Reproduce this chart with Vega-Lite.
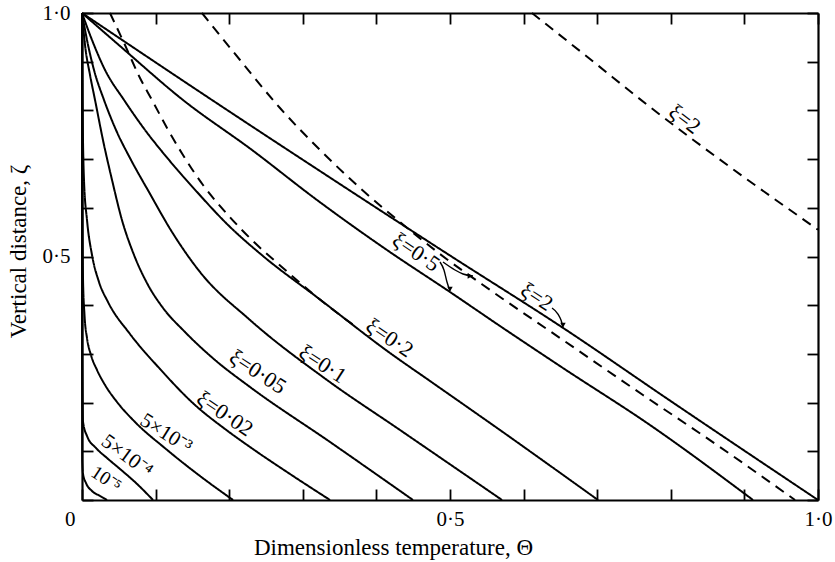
{
  "$schema": "https://vega.github.io/schema/vega-lite/v6.json",
  "width": 736,
  "height": 487,
  "autosize": {"type": "none"},
  "padding": {"left": 82, "top": 13, "right": 17, "bottom": 62},
  "background": "white",
  "config": {
    "view": {"stroke": null},
    "font": "Liberation Serif",
    "axis": {"grid": false, "domainColor": "black", "domainWidth": 2.2, "tickColor": "black", "tickWidth": 1.8, "labelColor": "black", "titleColor": "black", "labelFont": "Liberation Serif", "titleFont": "Liberation Serif", "labelFontSize": 21, "titleFontSize": 23, "titleFontWeight": "normal"}
  },
  "datasets": {
    "curves": [
      {"s": "1e-5", "kind": "exact", "x": 0, "y": 1}, {"s": "1e-5", "kind": "exact", "x": 0.0003, "y": 0.0821}, {"s": "1e-5", "kind": "exact", "x": 0.0014, "y": 0.0534}, {"s": "1e-5", "kind": "exact", "x": 0.0054, "y": 0.0349}, {"s": "1e-5", "kind": "exact", "x": 0.0136, "y": 0.0185}, {"s": "1e-5", "kind": "exact", "x": 0.0245, "y": 0.0082}, {"s": "1e-5", "kind": "exact", "x": 0.034, "y": 0},
      {"s": "5e-4", "kind": "exact", "x": 0, "y": 1}, {"s": "5e-4", "kind": "exact", "x": 0.0003, "y": 0.3}, {"s": "5e-4", "kind": "exact", "x": 0.0014, "y": 0.1602}, {"s": "5e-4", "kind": "exact", "x": 0.0068, "y": 0.1314}, {"s": "5e-4", "kind": "exact", "x": 0.019, "y": 0.1068}, {"s": "5e-4", "kind": "exact", "x": 0.034, "y": 0.0862}, {"s": "5e-4", "kind": "exact", "x": 0.0516, "y": 0.0637}, {"s": "5e-4", "kind": "exact", "x": 0.0734, "y": 0.0349}, {"s": "5e-4", "kind": "exact", "x": 0.0965, "y": 0},
      {"s": "5e-3", "kind": "exact", "x": 0, "y": 1}, {"s": "5e-3", "kind": "exact", "x": 0.0004, "y": 0.616}, {"s": "5e-3", "kind": "exact", "x": 0.0014, "y": 0.4517}, {"s": "5e-3", "kind": "exact", "x": 0.0034, "y": 0.3799}, {"s": "5e-3", "kind": "exact", "x": 0.0068, "y": 0.3326}, {"s": "5e-3", "kind": "exact", "x": 0.0122, "y": 0.2977}, {"s": "5e-3", "kind": "exact", "x": 0.0204, "y": 0.2669}, {"s": "5e-3", "kind": "exact", "x": 0.0313, "y": 0.2361}, {"s": "5e-3", "kind": "exact", "x": 0.0476, "y": 0.2012}, {"s": "5e-3", "kind": "exact", "x": 0.072, "y": 0.1602}, {"s": "5e-3", "kind": "exact", "x": 0.1141, "y": 0.1047}, {"s": "5e-3", "kind": "exact", "x": 0.1603, "y": 0.0493}, {"s": "5e-3", "kind": "exact", "x": 0.2052, "y": 0},
      {"s": "0.02", "kind": "exact", "x": 0, "y": 1}, {"s": "0.02", "kind": "exact", "x": 0.0007, "y": 0.8214}, {"s": "0.02", "kind": "exact", "x": 0.0027, "y": 0.6571}, {"s": "0.02", "kind": "exact", "x": 0.0068, "y": 0.5749}, {"s": "0.02", "kind": "exact", "x": 0.0136, "y": 0.5031}, {"s": "0.02", "kind": "exact", "x": 0.0231, "y": 0.4476}, {"s": "0.02", "kind": "exact", "x": 0.0353, "y": 0.4066}, {"s": "0.02", "kind": "exact", "x": 0.0652, "y": 0.3409}, {"s": "0.02", "kind": "exact", "x": 0.106, "y": 0.269}, {"s": "0.02", "kind": "exact", "x": 0.1535, "y": 0.1951}, {"s": "0.02", "kind": "exact", "x": 0.1943, "y": 0.1458}, {"s": "0.02", "kind": "exact", "x": 0.2283, "y": 0.1088}, {"s": "0.02", "kind": "exact", "x": 0.2826, "y": 0.0534}, {"s": "0.02", "kind": "exact", "x": 0.337, "y": 0},
      {"s": "0.05", "kind": "exact", "x": 0, "y": 1}, {"s": "0.05", "kind": "exact", "x": 0.0041, "y": 0.9343}, {"s": "0.05", "kind": "exact", "x": 0.0109, "y": 0.8727}, {"s": "0.05", "kind": "exact", "x": 0.0177, "y": 0.8214}, {"s": "0.05", "kind": "exact", "x": 0.0285, "y": 0.7392}, {"s": "0.05", "kind": "exact", "x": 0.0408, "y": 0.6571}, {"s": "0.05", "kind": "exact", "x": 0.0543, "y": 0.5749}, {"s": "0.05", "kind": "exact", "x": 0.0707, "y": 0.5031}, {"s": "0.05", "kind": "exact", "x": 0.0897, "y": 0.4415}, {"s": "0.05", "kind": "exact", "x": 0.1101, "y": 0.3943}, {"s": "0.05", "kind": "exact", "x": 0.1399, "y": 0.345}, {"s": "0.05", "kind": "exact", "x": 0.1807, "y": 0.2875}, {"s": "0.05", "kind": "exact", "x": 0.2283, "y": 0.232}, {"s": "0.05", "kind": "exact", "x": 0.337, "y": 0.1191}, {"s": "0.05", "kind": "exact", "x": 0.4497, "y": 0},
      {"s": "0.1", "kind": "exact", "x": 0, "y": 1}, {"s": "0.1", "kind": "exact", "x": 0.0068, "y": 0.9446}, {"s": "0.1", "kind": "exact", "x": 0.0163, "y": 0.883}, {"s": "0.1", "kind": "exact", "x": 0.0299, "y": 0.8214}, {"s": "0.1", "kind": "exact", "x": 0.0462, "y": 0.7598}, {"s": "0.1", "kind": "exact", "x": 0.0666, "y": 0.6982}, {"s": "0.1", "kind": "exact", "x": 0.091, "y": 0.6324}, {"s": "0.1", "kind": "exact", "x": 0.1223, "y": 0.5503}, {"s": "0.1", "kind": "exact", "x": 0.1603, "y": 0.4682}, {"s": "0.1", "kind": "exact", "x": 0.2283, "y": 0.3696}, {"s": "0.1", "kind": "exact", "x": 0.3329, "y": 0.2464}, {"s": "0.1", "kind": "exact", "x": 0.4321, "y": 0.1437}, {"s": "0.1", "kind": "exact", "x": 0.5707, "y": 0},
      {"s": "0.2", "kind": "exact", "x": 0, "y": 1}, {"s": "0.2", "kind": "exact", "x": 0.0136, "y": 0.9446}, {"s": "0.2", "kind": "exact", "x": 0.0313, "y": 0.883}, {"s": "0.2", "kind": "exact", "x": 0.0571, "y": 0.8214}, {"s": "0.2", "kind": "exact", "x": 0.0856, "y": 0.7598}, {"s": "0.2", "kind": "exact", "x": 0.1182, "y": 0.6982}, {"s": "0.2", "kind": "exact", "x": 0.1563, "y": 0.6324}, {"s": "0.2", "kind": "exact", "x": 0.1984, "y": 0.5647}, {"s": "0.2", "kind": "exact", "x": 0.2459, "y": 0.501}, {"s": "0.2", "kind": "exact", "x": 0.3207, "y": 0.4148}, {"s": "0.2", "kind": "exact", "x": 0.4185, "y": 0.3018}, {"s": "0.2", "kind": "exact", "x": 0.4728, "y": 0.2444}, {"s": "0.2", "kind": "exact", "x": 0.5679, "y": 0.1437}, {"s": "0.2", "kind": "exact", "x": 0.7011, "y": 0},
      {"s": "0.5", "kind": "exact", "x": 0, "y": 1}, {"s": "0.5", "kind": "exact", "x": 0.0516, "y": 0.9322}, {"s": "0.5", "kind": "exact", "x": 0.1372, "y": 0.8214}, {"s": "0.5", "kind": "exact", "x": 0.231, "y": 0.7187}, {"s": "0.5", "kind": "exact", "x": 0.3193, "y": 0.616}, {"s": "0.5", "kind": "exact", "x": 0.4144, "y": 0.5133}, {"s": "0.5", "kind": "exact", "x": 0.5, "y": 0.4271}, {"s": "0.5", "kind": "exact", "x": 0.5679, "y": 0.3573}, {"s": "0.5", "kind": "exact", "x": 0.6535, "y": 0.271}, {"s": "0.5", "kind": "exact", "x": 0.7717, "y": 0.154}, {"s": "0.5", "kind": "exact", "x": 0.9117, "y": 0},
      {"s": "2", "kind": "exact", "x": 0, "y": 1}, {"s": "2", "kind": "exact", "x": 0.174, "y": 0.824}, {"s": "2", "kind": "exact", "x": 0.337, "y": 0.662}, {"s": "2", "kind": "exact", "x": 0.5, "y": 0.502}, {"s": "2", "kind": "exact", "x": 0.654, "y": 0.353}, {"s": "2", "kind": "exact", "x": 0.8, "y": 0.203}, {"s": "2", "kind": "exact", "x": 1.0, "y": 0},
      {"s": "0.2a", "kind": "approx", "x": 0.038, "y": 1}, {"s": "0.2a", "kind": "approx", "x": 0.0584, "y": 0.9343}, {"s": "0.2a", "kind": "approx", "x": 0.0788, "y": 0.8665}, {"s": "0.2a", "kind": "approx", "x": 0.0951, "y": 0.8214}, {"s": "0.2a", "kind": "approx", "x": 0.1155, "y": 0.7639}, {"s": "0.2a", "kind": "approx", "x": 0.1372, "y": 0.7084}, {"s": "0.2a", "kind": "approx", "x": 0.1644, "y": 0.6468}, {"s": "0.2a", "kind": "approx", "x": 0.1984, "y": 0.5852}, {"s": "0.2a", "kind": "approx", "x": 0.2351, "y": 0.5277}, {"s": "0.2a", "kind": "approx", "x": 0.2731, "y": 0.4764}, {"s": "0.2a", "kind": "approx", "x": 0.3207, "y": 0.4148}, {"s": "0.2a", "kind": "approx", "x": 0.37, "y": 0.358},
      {"s": "0.5a", "kind": "approx", "x": 0.163, "y": 1}, {"s": "0.5a", "kind": "approx", "x": 0.2147, "y": 0.9035}, {"s": "0.5a", "kind": "approx", "x": 0.269, "y": 0.8049}, {"s": "0.5a", "kind": "approx", "x": 0.3234, "y": 0.7187}, {"s": "0.5a", "kind": "approx", "x": 0.3777, "y": 0.6407}, {"s": "0.5a", "kind": "approx", "x": 0.4321, "y": 0.5708}, {"s": "0.5a", "kind": "approx", "x": 0.4864, "y": 0.5051}, {"s": "0.5a", "kind": "approx", "x": 0.5584, "y": 0.4271}, {"s": "0.5a", "kind": "approx", "x": 0.6495, "y": 0.3326}, {"s": "0.5a", "kind": "approx", "x": 0.7622, "y": 0.2156}, {"s": "0.5a", "kind": "approx", "x": 0.8668, "y": 0.1088}, {"s": "0.5a", "kind": "approx", "x": 0.9688, "y": 0},
      {"s": "2a", "kind": "approx", "x": 0.6114, "y": 1}, {"s": "2a", "kind": "approx", "x": 0.6902, "y": 0.9055}, {"s": "2a", "kind": "approx", "x": 0.7717, "y": 0.807}, {"s": "2a", "kind": "approx", "x": 0.8804, "y": 0.6838}, {"s": "2a", "kind": "approx", "x": 1.0, "y": 0.555}
    ],
    "pointers": [
      {"p": "a", "x": 0.4864, "y": 0.4887}, {"p": "a", "x": 0.4918, "y": 0.4723}, {"p": "a", "x": 0.4959, "y": 0.4476}, {"p": "a", "x": 0.5, "y": 0.4292},
      {"p": "b", "x": 0.4905, "y": 0.4887}, {"p": "b", "x": 0.5068, "y": 0.4723}, {"p": "b", "x": 0.5177, "y": 0.4641}, {"p": "b", "x": 0.5312, "y": 0.46},
      {"p": "c", "x": 0.6386, "y": 0.3943}, {"p": "c", "x": 0.6467, "y": 0.3819}, {"p": "c", "x": 0.6508, "y": 0.3696}, {"p": "c", "x": 0.6535, "y": 0.3552}
    ],
    "heads": [
      {"p": "a", "x": 0.5, "y": 0.4332},
      {"p": "b", "x": 0.5272, "y": 0.46},
      {"p": "c", "x": 0.6535, "y": 0.3592}
    ],
    "labels": [
      {"t": "ξ=2", "x": 0.819, "y": 0.782},
      {"t": "ξ=0·5", "x": 0.454, "y": 0.509},
      {"t": "ξ=2 ", "x": 0.618, "y": 0.417},
      {"t": "ξ=0·2", "x": 0.418, "y": 0.333},
      {"t": "ξ=0·1", "x": 0.327, "y": 0.279},
      {"t": "ξ=0·05", "x": 0.239, "y": 0.263},
      {"t": "ξ=0·02", "x": 0.194, "y": 0.177},
      {"t": "5×10⁻³", "x": 0.114, "y": 0.136},
      {"t": "5×10⁻⁴", "x": 0.061, "y": 0.09},
      {"t": "10⁻⁵", "x": 0.033, "y": 0.043}
    ]
  },
  "layer": [
    {
      "data": {"name": "curves"},
      "mark": {"type": "line", "color": "black", "strokeWidth": 2, "interpolate": "monotone"},
      "encoding": {
        "x": {"field": "x", "type": "quantitative", "scale": {"domain": [0, 1], "nice": false},
          "axis": {"orient": "bottom", "values": [0, 0.1, 0.2, 0.3, 0.4, 0.5, 0.6, 0.7, 0.8, 0.9, 1], "tickSize": -11, "labelPadding": 19,
            "labelExpr": "datum.value == 0 ? '0' : datum.value == 0.5 ? '0·5' : datum.value == 1 ? '1·0' : ''",
            "labelAlign": {"condition": {"test": "datum.value == 0", "value": "right"}, "value": "center"},
            "labelOffset": {"condition": {"test": "datum.value == 0", "value": -7}, "value": 0},
            "labelFlush": false, "labelOverlap": false,
            "title": "Dimensionless temperature, Θ", "titleX": 311, "titleY": 54, "titleBaseline": "alphabetic", "titleAnchor": null, "titleAlign": "center"}},
        "y": {"field": "y", "type": "quantitative", "scale": {"domain": [0, 1], "nice": false},
          "axis": {"orient": "left", "values": [0, 0.1, 0.2, 0.3, 0.4, 0.5, 0.6, 0.7, 0.8, 0.9, 1], "tickSize": -11, "labelPadding": 23,
            "labelExpr": "datum.value == 0.5 ? '0·5' : datum.value == 1 ? '1·0' : ''", "labelFlush": false, "labelOverlap": false,
            "title": "Vertical distance, ζ", "titleX": -57, "titleY": 238, "titleAngle": -90, "titleAlign": "center", "titleBaseline": "alphabetic"}},
        "detail": {"field": "s"},
        "order": {"field": "y", "sort": "descending"},
        "strokeDash": {"field": "kind", "type": "nominal", "scale": {"domain": ["exact", "approx"], "range": [[1, 0], [10, 7]]}, "legend": null}
      }
    },
    {
      "data": {"name": "pointers"},
      "mark": {"type": "line", "color": "black", "strokeWidth": 1.4, "interpolate": "monotone"},
      "encoding": {
        "x": {"field": "x", "type": "quantitative", "axis": null},
        "y": {"field": "y", "type": "quantitative", "axis": null},
        "detail": {"field": "p"},
        "order": {"field": "y", "sort": "descending"}
      }
    },
    {
      "data": {"name": "heads"},
      "transform": [{"filter": "datum.p != 'b'"}],
      "mark": {"type": "point", "shape": "triangle-down", "filled": true, "color": "black", "opacity": 1, "size": 30},
      "encoding": {"x": {"field": "x", "type": "quantitative", "axis": null}, "y": {"field": "y", "type": "quantitative", "axis": null}}
    },
    {
      "data": {"name": "heads"},
      "transform": [{"filter": "datum.p == 'b'"}],
      "mark": {"type": "point", "shape": "triangle-right", "filled": true, "color": "black", "opacity": 1, "size": 30},
      "encoding": {"x": {"field": "x", "type": "quantitative", "axis": null}, "y": {"field": "y", "type": "quantitative", "axis": null}}
    },
    {
      "data": {"values": [{"x": 0, "y": 0}]},
      "mark": {"type": "point", "opacity": 0},
      "encoding": {
        "x": {"field": "x", "type": "quantitative", "axis": {"orient": "top", "values": [0, 0.1, 0.2, 0.3, 0.4, 0.5, 0.6, 0.7, 0.8, 0.9, 1], "tickSize": -11, "labels": false, "title": null}},
        "y": {"field": "y", "type": "quantitative", "axis": {"orient": "right", "values": [0, 0.1, 0.2, 0.3, 0.4, 0.5, 0.6, 0.7, 0.8, 0.9, 1], "tickSize": -11, "labels": false, "title": null}}
      }
    },
    {"data": {"name": "labels"}, "transform": [{"filter": "datum.t == 'ξ=2'"}], "mark": {"type": "text", "angle": 37, "fontSize": 22, "font": "Liberation Serif", "color": "black"}, "encoding": {"x": {"field": "x", "type": "quantitative", "axis": null}, "y": {"field": "y", "type": "quantitative", "axis": null}, "text": {"field": "t"}}},
    {"data": {"name": "labels"}, "transform": [{"filter": "datum.t == 'ξ=0·5'"}], "mark": {"type": "text", "angle": 34, "fontSize": 22, "font": "Liberation Serif", "color": "black"}, "encoding": {"x": {"field": "x", "type": "quantitative", "axis": null}, "y": {"field": "y", "type": "quantitative", "axis": null}, "text": {"field": "t"}}},
    {"data": {"name": "labels"}, "transform": [{"filter": "datum.t == 'ξ=2 '"}], "mark": {"type": "text", "angle": 33, "fontSize": 22, "font": "Liberation Serif", "color": "black"}, "encoding": {"x": {"field": "x", "type": "quantitative", "axis": null}, "y": {"field": "y", "type": "quantitative", "axis": null}, "text": {"field": "t"}}},
    {"data": {"name": "labels"}, "transform": [{"filter": "datum.t == 'ξ=0·2'"}], "mark": {"type": "text", "angle": 34, "fontSize": 22, "font": "Liberation Serif", "color": "black"}, "encoding": {"x": {"field": "x", "type": "quantitative", "axis": null}, "y": {"field": "y", "type": "quantitative", "axis": null}, "text": {"field": "t"}}},
    {"data": {"name": "labels"}, "transform": [{"filter": "datum.t == 'ξ=0·1'"}], "mark": {"type": "text", "angle": 33, "fontSize": 22, "font": "Liberation Serif", "color": "black"}, "encoding": {"x": {"field": "x", "type": "quantitative", "axis": null}, "y": {"field": "y", "type": "quantitative", "axis": null}, "text": {"field": "t"}}},
    {"data": {"name": "labels"}, "transform": [{"filter": "datum.t == 'ξ=0·05'"}], "mark": {"type": "text", "angle": 33, "fontSize": 22, "font": "Liberation Serif", "color": "black"}, "encoding": {"x": {"field": "x", "type": "quantitative", "axis": null}, "y": {"field": "y", "type": "quantitative", "axis": null}, "text": {"field": "t"}}},
    {"data": {"name": "labels"}, "transform": [{"filter": "datum.t == 'ξ=0·02'"}], "mark": {"type": "text", "angle": 34, "fontSize": 22, "font": "Liberation Serif", "color": "black"}, "encoding": {"x": {"field": "x", "type": "quantitative", "axis": null}, "y": {"field": "y", "type": "quantitative", "axis": null}, "text": {"field": "t"}}},
    {"data": {"name": "labels"}, "transform": [{"filter": "datum.t == '5×10⁻³'"}], "mark": {"type": "text", "angle": 32, "fontSize": 21, "font": "Liberation Serif", "color": "black"}, "encoding": {"x": {"field": "x", "type": "quantitative", "axis": null}, "y": {"field": "y", "type": "quantitative", "axis": null}, "text": {"field": "t"}}},
    {"data": {"name": "labels"}, "transform": [{"filter": "datum.t == '5×10⁻⁴'"}], "mark": {"type": "text", "angle": 36, "fontSize": 21, "font": "Liberation Serif", "color": "black"}, "encoding": {"x": {"field": "x", "type": "quantitative", "axis": null}, "y": {"field": "y", "type": "quantitative", "axis": null}, "text": {"field": "t"}}},
    {"data": {"name": "labels"}, "transform": [{"filter": "datum.t == '10⁻⁵'"}], "mark": {"type": "text", "angle": 34, "fontSize": 19, "font": "Liberation Serif", "color": "black"}, "encoding": {"x": {"field": "x", "type": "quantitative", "axis": null}, "y": {"field": "y", "type": "quantitative", "axis": null}, "text": {"field": "t"}}}
  ]
}
